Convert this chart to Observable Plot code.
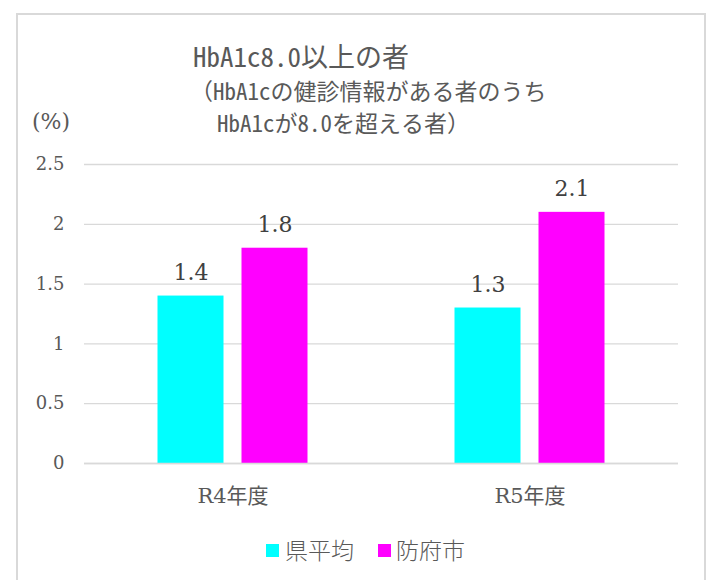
<!DOCTYPE html>
<html><head><meta charset="utf-8">
<script src="https://cdn.jsdelivr.net/npm/d3@7"></script>
<script src="https://cdn.jsdelivr.net/npm/@observablehq/plot@0.6"></script>
<style>
body{margin:0;background:#fff;}
#wrap{position:relative;width:713px;height:580px;overflow:hidden;background:#fff;}
#frame{position:absolute;left:16px;top:13px;width:690px;height:620px;border:2px solid #d9d9d9;box-sizing:border-box;}
.t{position:absolute;white-space:nowrap;color:#595959;font-family:"Noto Sans Mono CJK JP","Noto Sans CJK JP",sans-serif;line-height:0.9;font-weight:300;}
#chart{position:absolute;left:0;top:150px;}
.sw{position:absolute;width:13px;height:13px;}
</style>
</head><body>
<div id="wrap">
  <div id="frame"></div>
  <div class="t" id="title" style="left:193px;top:44px;font-size:27px;"></div>
  <div class="t" id="sub1" style="left:190px;top:79.5px;font-size:23px;"></div>
  <div class="t" id="sub2" style="left:217px;top:112px;font-size:23px;"></div>
  <div class="t" id="unit" style="left:32px;top:112px;font-size:22px;font-weight:400;font-family:'DejaVu Serif',serif;"></div>
  <div id="chart"></div>
  <div class="sw" id="sw0" style="left:266px;top:544px;"></div>
  <div class="t" id="lg0" style="left:285px;top:539px;font-size:23px;font-family:'Noto Sans CJK JP',sans-serif;"></div>
  <div class="sw" id="sw1" style="left:378px;top:544px;"></div>
  <div class="t" id="lg1" style="left:396px;top:539px;font-size:23px;font-family:'Noto Sans CJK JP',sans-serif;"></div>
</div>
<script>
const titleText = "HbA1c8.0以上の者";
const subtitleLines = ["（HbA1cの健診情報がある者のうち", "HbA1cが8.0を超える者）"];
const unitLabel = "(%)";
const years = ["R4年度", "R5年度"];
const series = ["県平均", "防府市"];
const kenValues = [1.4, 1.3];
const hofuValues = [1.8, 2.1];
const yTicks = [0, 0.5, 1, 1.5, 2, 2.5];
const colors = ["#00FFFF", "#FF00FF"];

const data = years.flatMap((yr, i) => [
  {year: yr, series: series[0], value: kenValues[i]},
  {year: yr, series: series[1], value: hofuValues[i]}
]);

document.getElementById("title").textContent = titleText;
document.getElementById("sub1").textContent = subtitleLines[0];
document.getElementById("sub2").textContent = subtitleLines[1];
document.getElementById("unit").textContent = unitLabel;
series.forEach((s, i) => {
  document.getElementById("sw" + i).style.background = colors[i];
  document.getElementById("lg" + i).textContent = s;
});

const chart = Plot.plot({
  width: 713,
  height: 380,
  marginTop: 14,
  marginBottom: 67,
  marginLeft: 84,
  marginRight: 35,
  style: {fontFamily: '"DejaVu Serif","Noto Sans CJK JP",serif', color: "#595959", background: "transparent", overflow: "visible"},
  fx: {domain: years, padding: 0, round: false},
  x: {domain: series, paddingInner: 0.2143, paddingOuter: 0.875, axis: null, round: false},
  y: {domain: [0, 2.5]},
  color: {domain: series, range: colors},
  marks: [
    Plot.gridY(yTicks, {stroke: "#d9d9d9", strokeOpacity: 1, strokeWidth: 1.3}),
    Plot.axisY(yTicks, {tickSize: 0, tickPadding: 20, fontSize: 18, label: null, tickFormat: d => String(d)}),
    Plot.axisFx({anchor: "bottom", tickSize: 0, tickPadding: 25, fontSize: 21, label: null}),
    Plot.barY(data, {fx: "year", x: "series", y: "value", fill: "series"}),
    Plot.ruleY([0], {stroke: "#d9d9d9", strokeWidth: 1.6}),
    Plot.text(data, {fx: "year", x: "series", y: "value", text: d => String(d.value), dy: -23, fontSize: 22, fill: "#404040", lineAnchor: "middle"})
  ]
});
document.getElementById("chart").appendChild(chart);
</script>
</body></html>
